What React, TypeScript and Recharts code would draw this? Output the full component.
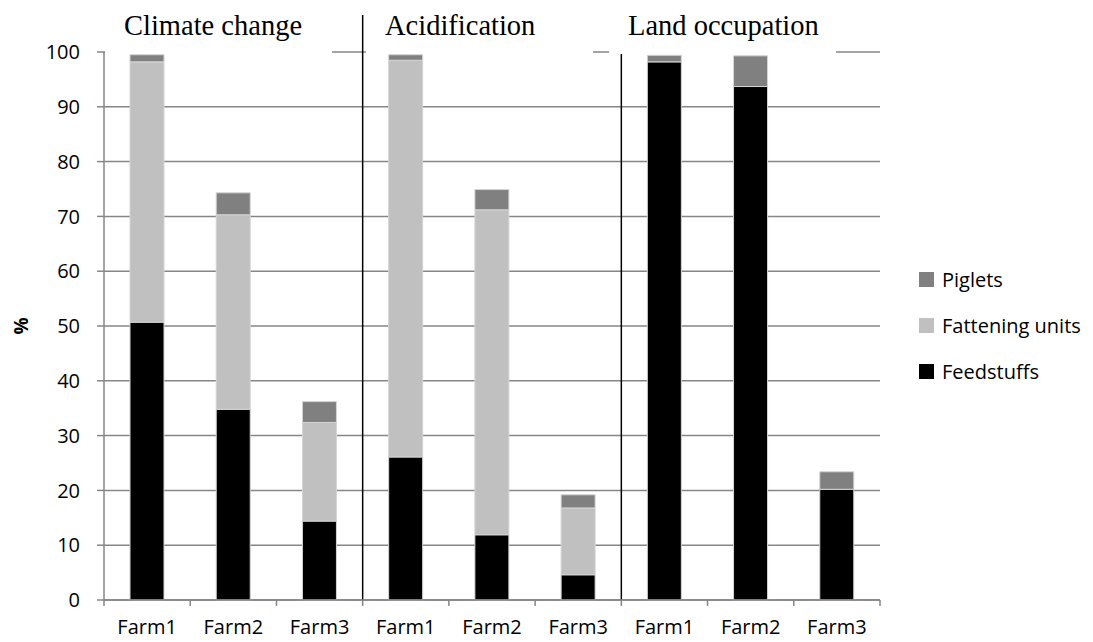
import { BarChart, Bar, XAxis, YAxis, CartesianGrid, Legend, ReferenceLine } from "recharts";

// impact categories, three farms each
const groups = ["Climate change", "Acidification", "Land occupation"];
const farms = ["Farm1", "Farm2", "Farm3", "Farm1", "Farm2", "Farm3", "Farm1", "Farm2", "Farm3"];

// share of impact (%) by source
const feedstuffs = [50.7, 34.8, 14.4, 26.1, 11.9, 4.6, 98.2, 93.7, 20.2];
const fatteningUnits = [47.5, 35.5, 18.0, 72.4, 59.3, 12.2, 0, 0, 0];
const piglets = [1.3, 4.0, 3.8, 1.0, 3.7, 2.4, 1.2, 5.6, 3.2];

const yTicks = [0, 10, 20, 30, 40, 50, 60, 70, 80, 90, 100];

const series = [
  { key: "Feedstuffs", color: "#000000" },
  { key: "Fattening units", color: "#c0c0c0" },
  { key: "Piglets", color: "#808080" },
];

const data = farms.map((farm, i) => ({
  id: `${groups[Math.floor(i / 3)]}-${farm}`,
  farm,
  Feedstuffs: feedstuffs[i],
  "Fattening units": fatteningUnits[i],
  Piglets: piglets[i],
}));

const W = 1093;
const H = 642;
const PLOT_LEFT = 104;
const PLOT_RIGHT = 880;
const PLOT_BOTTOM = 600;
const BAND = (PLOT_RIGHT - PLOT_LEFT) / farms.length;
const GRID = "#868686";
const SANS = "'Open Sans', sans-serif";

function FarmTick(props: any) {
  const { x, index } = props;
  const half = BAND / 2;
  const y = PLOT_BOTTOM;
  return (
    <g>
      {index === 0 && (
        <line x1={x - half} y1={y} x2={x - half} y2={y + 6} stroke={GRID} strokeWidth={1.5} />
      )}
      <line x1={x + half} y1={y} x2={x + half} y2={y + 6} stroke={GRID} strokeWidth={1.5} />
      <text x={x} y={y + 34} textAnchor="middle" fontFamily={SANS} fontSize={20} fill="#000">
        {data[index] ? data[index].farm : ""}
      </text>
    </g>
  );
}

function Divider(props: any) {
  const top = Math.min(props.y1, props.y2);
  const bottom = Math.max(props.y1, props.y2);
  return <line x1={props.x1} y1={top - 37} x2={props.x2} y2={bottom} stroke="#000" strokeWidth={1.5} />;
}

function LegendBox() {
  return (
    <div style={{ fontFamily: SANS, fontSize: 20, color: "#000", textAlign: "left" }}>
      {[...series].reverse().map((s) => (
        <div key={s.key} style={{ display: "flex", alignItems: "center", height: 45.7 }}>
          <span style={{ width: 15, height: 15, background: s.color, marginRight: 8, display: "inline-block" }} />
          <span>{s.key}</span>
        </div>
      ))}
    </div>
  );
}

const titleBoxes = [105, 366, 609];

export default function App() {
  return (
    <div style={{ position: "absolute", left: 0, top: 0, width: W, height: H, background: "#fff" }}>
      <BarChart
        width={W}
        height={H}
        data={data}
        margin={{ top: 52, right: W - PLOT_RIGHT, bottom: 12, left: 0 }}
        barSize={34}
      >
        <CartesianGrid vertical={false} stroke={GRID} strokeWidth={1.5} />
        <XAxis
          dataKey="id"
          height={30}
          tickLine={false}
          tickSize={0}
          tickMargin={0}
          axisLine={{ stroke: GRID, strokeWidth: 1.5 }}
          tick={<FarmTick />}
          interval={0}
        />
        <YAxis
          width={PLOT_LEFT}
          domain={[0, 100]}
          ticks={yTicks}
          tickSize={7}
          tickMargin={17}
          axisLine={{ stroke: GRID, strokeWidth: 1.5 }}
          tickLine={{ stroke: GRID, strokeWidth: 1.5 }}
          tick={{ fill: "#000", fontFamily: SANS, fontSize: 20 }}
        />
        {series.map((s) => (
          <Bar
            key={s.key}
            dataKey={s.key}
            stackId="a"
            fill={s.color}
            stroke="#d4d4d4"
            strokeWidth={1}
            isAnimationActive={false}
          />
        ))}
        <ReferenceLine x={data[3].id} position="start" ifOverflow="visible" shape={<Divider />} />
        <ReferenceLine x={data[6].id} position="start" ifOverflow="visible" shape={<Divider />} />
        <Legend
          layout="horizontal"
          align="center"
          verticalAlign="middle"
          content={<LegendBox />}
          wrapperStyle={{ position: "absolute", left: 919, top: 257, width: 170, height: 140 }}
        />
      </BarChart>
      <svg
        width={W}
        height={H}
        style={{ position: "absolute", left: 0, top: 0, pointerEvents: "none" }}
      >
        {groups.map((g, i) => (
          <g key={g}>
            <rect x={titleBoxes[i]} y={14} width={227} height={40} fill="#fff" />
            <text
              x={titleBoxes[i] + 19}
              y={35}
              fontFamily="'Liberation Serif', 'Times New Roman', serif"
              fontSize={28.5}
              fill="#000"
            >
              {g}
            </text>
          </g>
        ))}
        <text
          x={0}
          y={0}
          transform="translate(28 326) rotate(-90)"
          textAnchor="middle"
          fontFamily={SANS}
          fontWeight="bold"
          fontSize={19}
          fill="#000"
        >
          %
        </text>
      </svg>
    </div>
  );
}
